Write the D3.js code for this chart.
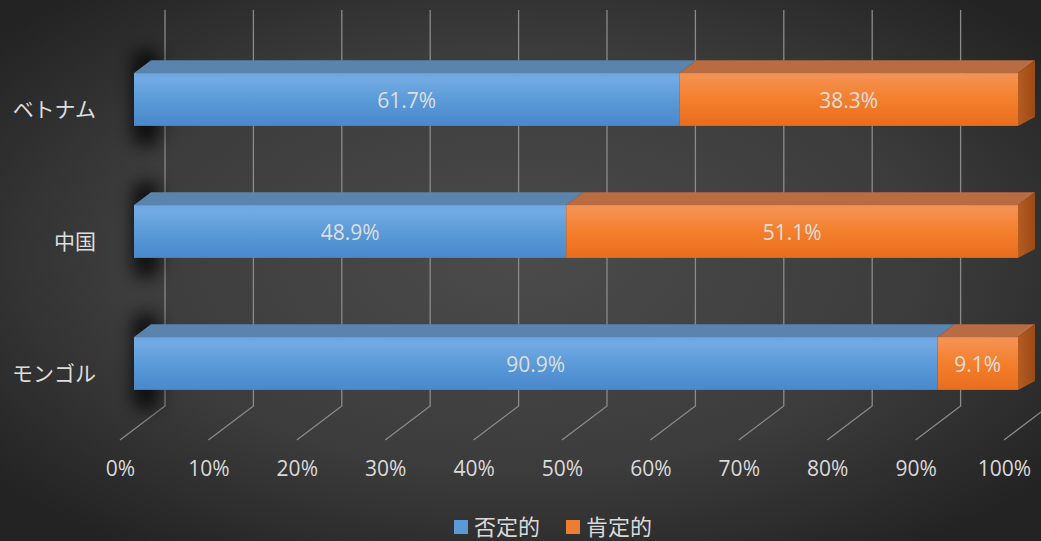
<!DOCTYPE html>
<html>
<head>
<meta charset="utf-8">
<script src="https://cdn.jsdelivr.net/npm/d3@7/dist/d3.min.js"></script>
<style>
  html, body { margin: 0; padding: 0; background: #333; }
  svg { display: block; }
</style>
</head>
<body>
<div id="chart"></div>
<script>
// Survey result shares by country (否定的 = negative, 肯定的 = positive)
const categories = ["ベトナム", "中国", "モンゴル"];
const negative = [0.617, 0.489, 0.909];
const positive = [0.383, 0.511, 0.091];
const seriesNames = ["否定的", "肯定的"];
const tickValues = [0, 0.1, 0.2, 0.3, 0.4, 0.5, 0.6, 0.7, 0.8, 0.9, 1.0];

const W = 1041, H = 541;
const svg = d3.select("#chart").append("svg").attr("width", W).attr("height", H);
const defs = svg.append("defs");

// Background: dark radial gradient
const bg = defs.append("radialGradient").attr("id", "bg")
  .attr("cx", "50%").attr("cy", "48%").attr("r", "65%");
bg.append("stop").attr("offset", "0%").attr("stop-color", "#4b4b4b");
bg.append("stop").attr("offset", "60%").attr("stop-color", "#3c3c3c");
bg.append("stop").attr("offset", "100%").attr("stop-color", "#232323");
svg.append("rect").attr("width", W).attr("height", H).attr("fill", "url(#bg)");

// Front-face gradients
function vgrad(id, stops) {
  const g = defs.append("linearGradient").attr("id", id)
    .attr("x1", 0).attr("y1", 0).attr("x2", 0).attr("y2", 1);
  stops.forEach(s => g.append("stop").attr("offset", s[0]).attr("stop-color", s[1]));
}
vgrad("blueFront", [[0, "#6ea6e0"], [0.12, "#72aae3"], [0.5, "#5b9bd9"], [1, "#4888cc"]]);
vgrad("orangeFront", [[0, "#f19456"], [0.12, "#f58f4c"], [0.5, "#f47f2c"], [1, "#e86d1c"]]);
const sideG = defs.append("linearGradient").attr("id", "orangeSide")
  .attr("x1", 0).attr("y1", 0).attr("x2", 1).attr("y2", 0);
sideG.append("stop").attr("offset", 0).attr("stop-color", "#b55c22");
sideG.append("stop").attr("offset", 1).attr("stop-color", "#9c4a14");

const blur = defs.append("filter").attr("id", "shadowBlur")
  .attr("x", "-100%").attr("y", "-100%").attr("width", "300%").attr("height", "300%");
blur.append("feGaussianBlur").attr("stdDeviation", 8);

const faceColors = {
  front: ["url(#blueFront)", "url(#orangeFront)"],
  top: ["#5a84ad", "#b96b42"]
};

// Front floor edge x-scale; depth shifts points back and up
const x = d3.scaleLinear().domain([0, 1]).range([120, 1004]);
const depthDX = 45, depthDY = -34;
const floorFrontY = 440, wallTopY = 10;
const barFrontDepth = 0.311, barBackDepth = 0.689;
const barDX = (barBackDepth - barFrontDepth) * depthDX;
const barDY = (barBackDepth - barFrontDepth) * depthDY;
const px = (v, d) => x(v) + d * depthDX;

const y = d3.scaleBand().domain(categories).range([33.5, 429.5])
  .paddingInner(0.6).paddingOuter(0.3);

// Gridlines: back wall verticals and floor diagonals
const grid = svg.append("g").attr("stroke", "#8a8a8a").attr("stroke-width", 1.3).attr("fill", "none");
grid.selectAll("path").data(tickValues).join("path")
  .attr("d", v => `M${px(v, 1)},${wallTopY} L${px(v, 1)},${floorFrontY + depthDY} L${x(v)},${floorFrontY}`);

// Stacked data
const rows = categories.map((c, i) => ({ cat: c, [seriesNames[0]]: negative[i], [seriesNames[1]]: positive[i] }));
const stacked = d3.stack().keys(seriesNames)(rows);

// Soft shadows at the left end of each bar
svg.append("g").selectAll("rect").data(categories).join("rect")
  .attr("x", px(0, barFrontDepth) - 2)
  .attr("y", c => y(c) - 24)
  .attr("width", 28)
  .attr("height", y.bandwidth() + 44)
  .attr("rx", 12)
  .attr("fill", "#000").attr("opacity", 0.7)
  .attr("filter", "url(#shadowBlur)");

const bars = svg.append("g");
categories.forEach((c, ci) => {
  const g = bars.append("g");
  const top = y(c), bot = y(c) + y.bandwidth();
  stacked.forEach((layer, si) => {
    const [a, b] = layer[ci];
    const x0 = px(a, barFrontDepth), x1 = px(b, barFrontDepth);
    // top face
    g.append("path")
      .attr("d", `M${x0},${top} L${x1},${top} L${x1 + barDX},${top + barDY} L${x0 + barDX},${top + barDY} Z`)
      .attr("fill", faceColors.top[si]);
    // front face
    g.append("rect").attr("x", x0).attr("y", top).attr("width", x1 - x0).attr("height", bot - top)
      .attr("fill", faceColors.front[si]);
  });
  // right end face
  const xe = px(1, barFrontDepth);
  g.append("path")
    .attr("d", `M${xe},${top} L${xe + barDX},${top + barDY} L${xe + barDX},${bot + barDY + 4} L${xe},${bot} Z`)
    .attr("fill", "url(#orangeSide)");
  // data labels
  stacked.forEach((layer, si) => {
    const [a, b] = layer[ci];
    const v = b - a;
    g.append("text")
      .attr("x", (px(a, barFrontDepth) + px(b, barFrontDepth)) / 2)
      .attr("y", (top + bot) / 2 + 8)
      .attr("text-anchor", "middle")
      .attr("font-family", "'Open Sans', 'Noto Sans', sans-serif")
      .attr("font-size", 21)
      .attr("fill", "#dedede")
      .text(d3.format(".1%")(v));
  });
});

// Category labels
svg.append("g").selectAll("text").data(categories).join("text")
  .attr("x", 96)
  .attr("y", c => y(c) + y.bandwidth() / 2 + 17)
  .attr("text-anchor", "end")
  .attr("font-family", "'Noto Sans CJK JP', sans-serif")
  .attr("font-size", 21)
  .attr("fill", "#dedede")
  .text(c => c);

// Value axis labels
const axis = svg.append("g").attr("transform", `translate(0,${floorFrontY + 36})`)
  .call(d3.axisBottom(x).tickValues(tickValues).tickFormat(d3.format(".0%")).tickSize(0).tickPadding(0));
axis.select(".domain").remove();
axis.selectAll("text")
  .attr("dy", 0)
  .attr("font-family", "'Open Sans', 'Noto Sans', sans-serif")
  .attr("font-size", 21)
  .attr("fill", "#dadada");

// Legend
const legendColors = ["#5b9bd5", "#ed7d31"];
const legend = svg.append("g");
const legendX = [454, 566];
seriesNames.forEach((name, i) => {
  legend.append("rect").attr("x", legendX[i]).attr("y", 520).attr("width", 14).attr("height", 14)
    .attr("fill", legendColors[i]);
  legend.append("text").attr("x", legendX[i] + 20).attr("y", 535)
    .attr("font-family", "'Noto Sans CJK JP', sans-serif")
    .attr("font-size", 22)
    .attr("fill", "#dadada")
    .text(name);
});
</script>
</body>
</html>
